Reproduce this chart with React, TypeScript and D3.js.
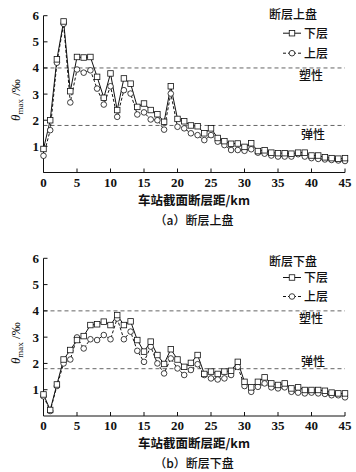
import React from 'react';
import * as d3 from 'd3';

const distances = [0,1,2,3,4,5,6,7,8,9,10,11,12,13,14,15,16,17,18,19,20,21,22,23,24,25,26,27,28,29,30,31,32,33,34,35,36,37,38,39,40,41,42,43,44,45];
const xTicks = [0,5,10,15,20,25,30,35,40,45];
const yTicks = [1,2,3,4,5,6];
const plasticLimit = 4;
const elasticLimit = 1.8;

// (a) hanging wall
const hangLower = [0.9,2.0,4.33,5.78,3.11,4.42,4.40,4.42,3.66,2.86,3.79,2.39,3.6,3.4,2.51,2.64,2.39,2.23,1.94,3.3,2.05,1.96,1.8,1.77,1.5,1.69,1.32,1.2,1.1,1.11,0.98,1.12,0.82,0.85,0.76,0.74,0.74,0.72,0.76,0.76,0.65,0.65,0.58,0.55,0.53,0.55];
const hangUpper = [0.64,1.62,4.2,5.69,2.68,3.94,3.82,3.91,3.21,2.6,3.3,2.13,3.15,3.02,2.22,2.3,2.03,2.0,1.64,3.02,1.75,1.69,1.5,1.43,1.24,1.43,1.18,1.05,0.86,0.86,0.83,0.89,0.76,0.72,0.65,0.61,0.61,0.61,0.7,0.61,0.55,0.52,0.5,0.48,0.46,0.44];
// (b) footwall
const footLower = [0.82,0.23,1.2,2.15,2.51,2.89,3.04,3.46,3.49,3.59,3.46,3.84,3.46,3.6,2.89,2.45,2.83,2.32,1.98,2.54,2.15,1.87,2.02,2.32,1.6,1.69,1.6,1.69,1.72,2.06,1.3,1.09,1.3,1.47,1.24,1.18,1.24,1.05,1.09,0.99,0.99,0.99,0.96,0.89,0.86,0.86];
const footUpper = [0.75,0.19,1.14,2.0,2.15,2.99,2.57,2.92,2.89,3.08,2.92,3.71,2.92,3.21,2.48,2.06,2.64,2.0,1.62,2.19,1.81,1.56,1.75,1.97,1.56,1.43,1.39,1.43,1.56,1.87,1.14,0.92,1.11,1.24,1.09,1.05,1.09,0.92,0.89,0.86,0.89,0.86,0.84,0.79,0.79,0.71];

const seriesNames = ['下层', '上层'];
const xTitle = '车站截面断层距/km';

const CJK = '"Noto Sans CJK SC", sans-serif';
const SERIF = '"Liberation Serif", "Times New Roman", serif';

type PanelProps = {
  top: number;
  bottom: number;
  lower: number[];
  upper: number[];
  legendTitle: string;
  legendTitleY: number;
  legendY1: number;
  legendY2: number;
  caption: string;
  elasticAbove: boolean;
};

const x = d3.scaleLinear().domain([0, 45]).range([43.5, 345]);

function Panel({ top, bottom, lower, upper, legendTitle, legendTitleY, legendY1, legendY2, caption, elasticAbove }: PanelProps) {
  const y = d3.scaleLinear().domain([0, 6]).range([bottom, top]);
  const lineGen = d3.line<number>().x((_, i) => x(distances[i])).y((d) => y(d));
  const sq = 5.5;
  const r = 2.8;
  const legX = 283;
  const legY1 = legendY1;
  const legY2 = legendY2;
  return (
    <g>
      {/* reference lines */}
      <line x1={x(0)} x2={x(45)} y1={y(plasticLimit)} y2={y(plasticLimit)} stroke="#555" strokeWidth={0.9} strokeDasharray="4,3" />
      <line x1={x(0)} x2={x(45)} y1={y(elasticLimit)} y2={y(elasticLimit)} stroke="#555" strokeWidth={0.9} strokeDasharray="4,3" />
      <text x={311} y={y(plasticLimit) + 12} textAnchor="middle" fontFamily={CJK} fontSize={12} fontWeight={500} fill="#111">塑性</text>
      <text x={313} y={elasticAbove ? y(elasticLimit) - 3 : y(elasticLimit) + 14} textAnchor="middle" fontFamily={CJK} fontSize={12} fontWeight={500} fill="#111">弹性</text>

      {/* axes */}
      <line x1={x(0)} x2={x(45)} y1={y(0)} y2={y(0)} stroke="#111" strokeWidth={1} />
      <line x1={x(0)} x2={x(0)} y1={y(0)} y2={y(6)} stroke="#111" strokeWidth={1} />
      {xTicks.map((t) => (
        <g key={'xt' + t}>
          <line x1={x(t)} x2={x(t)} y1={y(0)} y2={y(0) - 4} stroke="#111" strokeWidth={1} />
          <text x={x(t)} y={y(0) + 14} textAnchor="middle" fontFamily={SERIF} fontWeight="bold" fontSize={13} fill="#111">{t}</text>
        </g>
      ))}
      {yTicks.map((t) => (
        <g key={'yt' + t}>
          <line x1={x(0)} x2={x(0) + 4} y1={y(t)} y2={y(t)} stroke="#111" strokeWidth={1} />
          <text x={39} y={y(t) + 4.5} textAnchor="end" fontFamily={SERIF} fontWeight="bold" fontSize={13} fill="#111">{t}</text>
        </g>
      ))}
      <text transform={`translate(20,${(top + bottom) / 2 + 6}) rotate(-90)`} textAnchor="middle" fontFamily={SERIF} fontSize={13} fill="#111">
        <tspan fontStyle="italic">θ</tspan>
        <tspan fontSize={9} dy={3}>max</tspan>
        <tspan dy={-3}> /‰</tspan>
      </text>
      <text x={194} y={bottom + 32} textAnchor="middle" fontFamily={CJK} fontSize={12.5} fontWeight="bold" fill="#111">{xTitle}</text>
      <text x={194} y={bottom + 52} textAnchor="middle" fontFamily={CJK} fontSize={12} fontWeight={500} fill="#111">{caption}</text>

      {/* series */}
      <path d={lineGen(upper) || ''} fill="none" stroke="#111" strokeWidth={1} strokeDasharray="3,2" />
      <path d={lineGen(lower) || ''} fill="none" stroke="#111" strokeWidth={1} />
      {upper.map((v, i) => (
        <circle key={'u' + i} cx={x(distances[i])} cy={y(v)} r={r} fill="#fff" stroke="#111" strokeWidth={0.8} />
      ))}
      {lower.map((v, i) => (
        <rect key={'l' + i} x={x(distances[i]) - sq / 2} y={y(v) - sq / 2} width={sq} height={sq} fill="#fff" stroke="#111" strokeWidth={0.8} />
      ))}

      {/* legend */}
      <text x={293} y={legendTitleY} textAnchor="middle" fontFamily={CJK} fontSize={12} fontWeight={500} fill="#111">{legendTitle}</text>
      <line x1={legX} x2={legX + 18} y1={legY1} y2={legY1} stroke="#111" strokeWidth={1} />
      <rect x={legX + 9 - sq / 2} y={legY1 - sq / 2} width={sq} height={sq} fill="#fff" stroke="#111" strokeWidth={0.8} />
      <text x={legX + 21} y={legY1 + 4.5} fontFamily={CJK} fontSize={12} fontWeight={500} fill="#111">{seriesNames[0]}</text>
      <line x1={legX} x2={legX + 18} y1={legY2} y2={legY2} stroke="#111" strokeWidth={1} strokeDasharray="3,2" />
      <circle cx={legX + 9} cy={legY2} r={r} fill="#fff" stroke="#111" strokeWidth={0.8} />
      <text x={legX + 21} y={legY2 + 4.5} fontFamily={CJK} fontSize={12} fontWeight={500} fill="#111">{seriesNames[1]}</text>
    </g>
  );
}

export default function App() {
  return (
    <svg width={356} height={472} style={{ position: 'absolute', left: 0, top: 0, background: '#fff' }}>
      <rect width={356} height={472} fill="#fff" />
      <Panel top={15.7} bottom={172.5} lower={hangLower} upper={hangUpper} legendTitle="断层上盘" legendTitleY={18.5} legendY1={33.2} legendY2={53.2} caption="（a）断层上盘" elasticAbove={false} />
      <Panel top={258.3} bottom={416} lower={footLower} upper={footUpper} legendTitle="断层下盘" legendTitleY={265.5} legendY1={277.5} legendY2={296.5} caption="（b）断层下盘" elasticAbove={true} />
    </svg>
  );
}
